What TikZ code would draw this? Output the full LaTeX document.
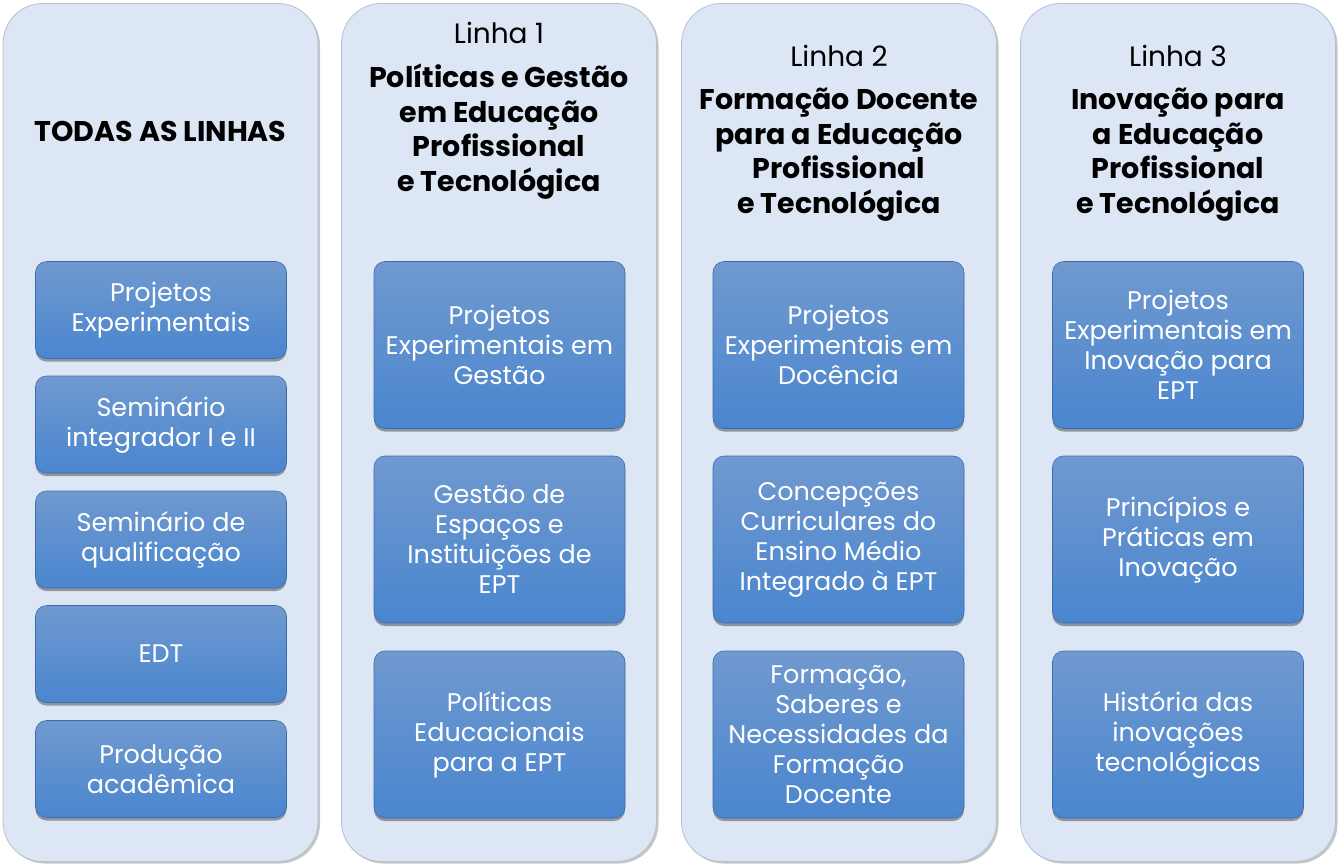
\documentclass[tikz,border=0pt]{standalone}
\usepackage{fontspec}
\setmainfont{Poppins}
\usepackage{tikz}
\usetikzlibrary{shadows,positioning}

\definecolor{PanelFill}{RGB}{220,230,245}
\definecolor{PanelLine}{RGB}{180,192,212}
\definecolor{BoxTop}{RGB}{112,153,207}
\definecolor{BoxBottom}{RGB}{74,134,207}
\definecolor{BoxLine}{RGB}{62,108,168}

\begin{document}
\begin{tikzpicture}[x=1pt, y=-1pt]
			\tikzstyle{Panel}	= [rounded corners=40pt, draw=PanelLine, fill=PanelFill, line width=0.8pt, inner sep=0pt, minimum width=315pt, minimum height=858pt, drop shadow={shadow xshift=2pt, shadow yshift=-2pt, opacity=0.45, fill=gray}]
			\tikzstyle{Item}	= [rounded corners=11pt, draw=BoxLine, line width=0.6pt, top color=BoxTop, bottom color=BoxBottom, text=white, align=center, inner sep=2pt, minimum width=251pt, drop shadow={shadow xshift=0pt, shadow yshift=-3pt, opacity=0.35, fill=black}, font=\fontsize{25.5}{30}\selectfont]
			\tikzstyle{Short}	= [minimum height=97pt]
			\tikzstyle{Tall}	= [minimum height=167pt]
			\tikzstyle{Linha}	= [font=\fontsize{28}{30}\selectfont]
			\tikzstyle{Title}	= [align=center, font=\bfseries\fontsize{28.5}{34.5}\selectfont]

			\useasboundingbox (0,0) rectangle (1338,865);

			\node (c0) at (160.5,432.5) [Panel] {};
			\node (c1) at (499,432.5) [Panel] {};
			\node (c2) at (839,432.5) [Panel] {};
			\node (c3) at (1178,432.5) [Panel] {};

			\node (t0) at (160.5,131) [Title] {TODAS AS LINHAS};

			\node (l1) at (499,33) [Linha] {Linha 1};
			\node (t1) at (499,131.5) [Title] {Políticas e Gestão\\em Educação\\Profissional\\e Tecnológica};

			\node (l2) at (839,56) [Linha] {Linha 2};
			\node (t2) at (839,154.5) [Title] {Formação Docente\\para a Educação\\Profissional\\e Tecnológica};

			\node (l3) at (1178,56) [Linha] {Linha 3};
			\node (t3) at (1178,154.5) [Title] {Inovação para\\a Educação\\Profissional\\e Tecnológica};

			\node (a1) at (161,310) [Item][Short] {Projetos\\Experimentais};
			\node (a2) at (161,424.5) [Item][Short] {Seminário\\integrador I e II};
			\node (a3) at (161,539.5) [Item][Short] {Seminário de\\qualificação};
			\node (a4) at (161,654) [Item][Short] {EDT};
			\node (a5) at (161,769) [Item][Short] {Produção\\acadêmica};

			\node (b1) at (499.5,345) [Item][Tall] {Projetos\\Experimentais em\\Gestão};
			\node (b2) at (499.5,539.5) [Item][Tall] {Gestão de\\Espaços e\\Instituições de\\EPT};
			\node (b3) at (499.5,734.5) [Item][Tall] {Políticas\\Educacionais\\para a EPT};

			\node (d1) at (838.5,345) [Item][Tall] {Projetos\\Experimentais em\\Docência};
			\node (d2) at (838.5,539.5) [Item][Tall] {Concepções\\Curriculares do\\Ensino Médio\\Integrado à EPT};
			\node (d3) at (838.5,734.5) [Item][Tall] {Formação,\\Saberes e\\Necessidades da\\Formação\\Docente};

			\node (e1) at (1178,345) [Item][Tall] {Projetos\\Experimentais em\\Inovação para\\EPT};
			\node (e2) at (1178,539.5) [Item][Tall] {Princípios e\\Práticas em\\Inovação};
			\node (e3) at (1178,734.5) [Item][Tall] {História das\\inovações\\tecnológicas};
		\end{tikzpicture}
\end{document}
